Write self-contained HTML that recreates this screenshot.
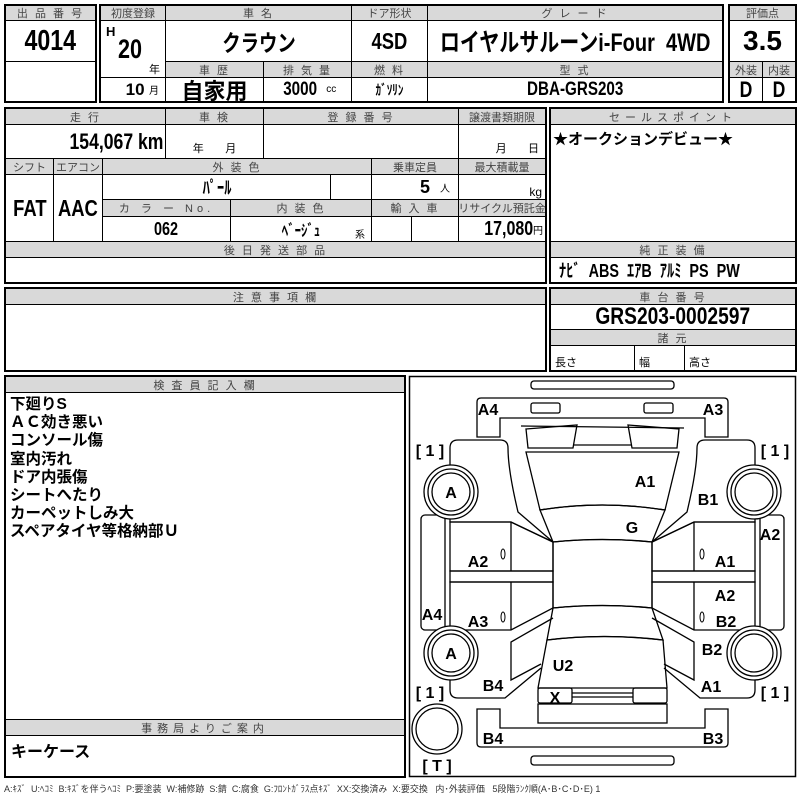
<!DOCTYPE html>
<html><head><meta charset="utf-8">
<style>
body{margin:0;width:800px;height:800px;background:#fff;position:relative;overflow:hidden;font-family:"Liberation Sans","Noto Sans CJK JP",sans-serif;}
.c{position:absolute;box-sizing:border-box;border:1px solid #000;display:flex;align-items:center;justify-content:center;color:#000;white-space:nowrap;overflow:hidden}
.h{background:#d9d9d9;color:#444;font-size:11px;letter-spacing:2px}
.o{position:absolute;box-sizing:border-box;border:2px solid #000}
.b{font-weight:bold;font-size:22px}
.n{display:inline-block;transform:scaleX(0.8)}
.s{font-size:10px;font-weight:normal}
</style></head><body>

<div class="c h" style="left:5px;top:5px;width:91px;height:16px">出 品 番 号</div>
<div class="c b" style="left:5px;top:20px;width:91px;height:42px;font-size:29px"><span class="n">4014</span></div>
<div class="c" style="left:5px;top:61px;width:91px;height:41px"></div>
<div class="o" style="left:4px;top:4px;width:93px;height:99px"></div>

<div class="c h" style="left:100px;top:5px;width:66px;height:16px;letter-spacing:0">初度登録</div>
<div class="c h" style="left:165px;top:5px;width:187px;height:16px">車 名</div>
<div class="c h" style="left:351px;top:5px;width:77px;height:16px;letter-spacing:0">ドア形状</div>
<div class="c h" style="left:427px;top:5px;width:296px;height:16px">グ レ ー ド</div>
<div class="c" style="left:100px;top:20px;width:66px;height:58px"></div>
<div style="position:absolute;left:106px;top:24px;font-weight:bold;font-size:13px">H</div>
<div style="position:absolute;left:115px;top:34px;font-weight:bold;font-size:27px"><span class="n">20</span></div>
<div style="position:absolute;left:149px;top:61px;font-size:11px">年</div>
<div class="c" style="left:100px;top:77px;width:66px;height:25px;justify-content:flex-end;padding-right:6px"><b style="font-size:17px">10</b>&nbsp;<span style="font-size:10px">月</span></div>
<div class="c b" style="left:165px;top:20px;width:187px;height:42px;font-size:23px"><span class="n">クラウン</span></div>
<div class="c b" style="left:351px;top:20px;width:77px;height:42px;font-size:23px"><span class="n">4SD</span></div>
<div class="c b" style="left:427px;top:20px;width:296px;height:42px;font-size:25px"><span class="n">ロイヤルサルーンi-Four&nbsp;&nbsp;4WD</span></div>
<div class="c h" style="left:165px;top:61px;width:99px;height:17px">車 歴</div>
<div class="c h" style="left:263px;top:61px;width:89px;height:17px">排 気 量</div>
<div class="c h" style="left:351px;top:61px;width:77px;height:17px">燃 料</div>
<div class="c h" style="left:427px;top:61px;width:296px;height:17px">型 式</div>
<div class="c b" style="left:165px;top:77px;width:99px;height:25px">自家用</div>
<div class="c b" style="left:263px;top:77px;width:89px;height:25px;font-size:19px"><span class="n">3000</span>&nbsp;<span class="s">cc</span></div>
<div class="c b" style="left:351px;top:77px;width:77px;height:25px;font-size:14px"><span class="n">ｶﾞｿﾘﾝ</span></div>
<div class="c b" style="left:427px;top:77px;width:296px;height:25px;font-size:19px"><span class="n">DBA-GRS203</span></div>
<div class="o" style="left:99px;top:4px;width:625px;height:99px"></div>

<div class="c h" style="left:729px;top:5px;width:67px;height:16px;letter-spacing:0">評価点</div>
<div class="c b" style="left:729px;top:20px;width:67px;height:42px;font-size:28px">3.5</div>
<div class="c h" style="left:729px;top:61px;width:34px;height:17px;letter-spacing:0">外装</div>
<div class="c h" style="left:762px;top:61px;width:34px;height:17px;letter-spacing:0">内装</div>
<div class="c b" style="left:729px;top:77px;width:34px;height:25px"><span class="n">D</span></div>
<div class="c b" style="left:762px;top:77px;width:34px;height:25px"><span class="n">D</span></div>
<div class="o" style="left:728px;top:4px;width:69px;height:99px"></div>

<div class="c h" style="left:5px;top:108px;width:161px;height:17px">走 行</div>
<div class="c h" style="left:165px;top:108px;width:99px;height:17px">車 検</div>
<div class="c h" style="left:263px;top:108px;width:196px;height:17px">登 録 番 号</div>
<div class="c h" style="left:458px;top:108px;width:88px;height:17px;letter-spacing:0">譲渡書類期限</div>
<div class="c b" style="left:5px;top:124px;width:161px;height:35px;justify-content:flex-end;padding-right:2px;font-size:22px"><span class="n" style="transform-origin:right">154,067 km</span></div>
<div class="c" style="left:165px;top:124px;width:99px;height:35px;align-items:flex-end;font-size:11px;padding-bottom:2px">年&nbsp;&nbsp;&nbsp;&nbsp;&nbsp;&nbsp;&nbsp;月</div>
<div class="c" style="left:263px;top:124px;width:196px;height:35px"></div>
<div class="c" style="left:458px;top:124px;width:88px;height:35px;align-items:flex-end;font-size:11px;padding-bottom:2px;justify-content:flex-end;padding-right:6px">月&nbsp;&nbsp;&nbsp;&nbsp;&nbsp;&nbsp;&nbsp;日</div>
<div class="c h" style="left:5px;top:158px;width:49px;height:17px;letter-spacing:0">シフト</div>
<div class="c h" style="left:53px;top:158px;width:50px;height:17px;letter-spacing:0">エアコン</div>
<div class="c h" style="left:102px;top:158px;width:270px;height:17px">外 装 色</div>
<div class="c h" style="left:371px;top:158px;width:88px;height:17px;letter-spacing:0">乗車定員</div>
<div class="c h" style="left:458px;top:158px;width:88px;height:17px;letter-spacing:0">最大積載量</div>
<div class="c b" style="left:5px;top:174px;width:49px;height:68px;font-size:23px"><span class="n">FAT</span></div>
<div class="c b" style="left:53px;top:174px;width:50px;height:68px;font-size:23px"><span class="n">AAC</span></div>
<div class="c b" style="left:102px;top:174px;width:229px;height:26px;font-size:18px"><span class="n">ﾊﾟｰﾙ</span></div>
<div class="c" style="left:330px;top:174px;width:42px;height:26px"></div>
<div class="c b" style="left:371px;top:174px;width:88px;height:26px;font-size:18px;justify-content:flex-end;padding-right:8px">5&nbsp;&nbsp;<span class="s">人</span></div>
<div class="c" style="left:458px;top:174px;width:88px;height:26px;justify-content:flex-end;padding-right:3px;font-size:12px;align-items:flex-end">kg</div>
<div class="c h" style="left:102px;top:199px;width:129px;height:18px;letter-spacing:4px">カ ラ ー No.</div>
<div class="c h" style="left:230px;top:199px;width:142px;height:18px">内 装 色</div>
<div class="c h" style="left:371px;top:199px;width:88px;height:18px">輸 入 車</div>
<div class="c h" style="left:458px;top:199px;width:88px;height:18px;letter-spacing:0">リサイクル預託金</div>
<div class="c b" style="left:102px;top:216px;width:129px;height:26px;font-size:18px"><span class="n">062</span></div>
<div class="c b" style="left:230px;top:216px;width:142px;height:26px;font-size:16px"><span class="n">ﾍﾞｰｼﾞｭ</span></div>
<div style="position:absolute;left:355px;top:226px;font-size:10px">系</div>
<div class="c" style="left:371px;top:216px;width:41px;height:26px"></div>
<div class="c" style="left:411px;top:216px;width:48px;height:26px"></div>
<div class="c b" style="left:458px;top:216px;width:88px;height:26px;font-size:20px;justify-content:flex-end;padding-right:2px"><span class="n" style="transform-origin:right">17,080</span><span class="s">円</span></div>
<div class="c h" style="left:5px;top:241px;width:541px;height:17px">後 日 発 送 部 品</div>
<div class="c" style="left:5px;top:257px;width:541px;height:26px"></div>
<div class="o" style="left:4px;top:107px;width:543px;height:177px"></div>

<div class="c h" style="left:550px;top:108px;width:246px;height:17px;letter-spacing:5px">セールスポイント</div>
<div class="c" style="left:550px;top:124px;width:246px;height:118px;align-items:flex-start;justify-content:flex-start;padding:3px 2px;font-weight:bold;font-size:15px">★オークションデビュー★</div>
<div class="c h" style="left:550px;top:241px;width:246px;height:17px">純 正 装 備</div>
<div class="c b" style="left:550px;top:257px;width:246px;height:26px;font-size:18px;justify-content:flex-start;padding-left:8px"><span class="n" style="transform-origin:left">ﾅﾋﾞ&nbsp; ABS&nbsp; ｴｱB&nbsp; ｱﾙﾐ&nbsp; PS&nbsp; PW</span></div>
<div class="o" style="left:549px;top:107px;width:248px;height:177px"></div>

<div class="c h" style="left:5px;top:288px;width:541px;height:17px">注 意 事 項 欄</div>
<div class="c" style="left:5px;top:304px;width:541px;height:67px"></div>
<div class="o" style="left:4px;top:287px;width:543px;height:85px"></div>

<div class="c h" style="left:550px;top:288px;width:246px;height:17px">車 台 番 号</div>
<div class="c b" style="left:550px;top:304px;width:246px;height:26px;font-size:24px"><span class="n">GRS203-0002597</span></div>
<div class="c h" style="left:550px;top:329px;width:246px;height:17px">諸 元</div>
<div class="c" style="left:550px;top:345px;width:85px;height:26px;justify-content:flex-start;padding-left:4px;font-size:11px;align-items:flex-end">長さ</div>
<div class="c" style="left:634px;top:345px;width:51px;height:26px;justify-content:flex-start;padding-left:4px;font-size:11px;align-items:flex-end">幅</div>
<div class="c" style="left:684px;top:345px;width:112px;height:26px;justify-content:flex-start;padding-left:4px;font-size:11px;align-items:flex-end">高さ</div>
<div class="o" style="left:549px;top:287px;width:248px;height:85px"></div>

<div class="c h" style="left:5px;top:376px;width:400px;height:17px">検 査 員 記 入 欄</div>
<div class="c" style="left:5px;top:392px;width:400px;height:328px;align-items:flex-start;justify-content:flex-start;padding:3px 4px;font-weight:bold;font-size:15.5px;line-height:18.2px;white-space:pre;">下廻りS
ＡＣ効き悪い
コンソール傷
室内汚れ
ドア内張傷
シートへたり
カーペットしみ大
スペアタイヤ等格納部Ｕ</div>
<div class="c h" style="left:5px;top:719px;width:400px;height:17px;letter-spacing:5px">事務局よりご案内</div>
<div class="c" style="left:5px;top:735px;width:400px;height:42px;align-items:flex-start;justify-content:flex-start;padding:2px 5px;font-weight:bold;font-size:16px">キーケース</div>
<div class="o" style="left:4px;top:375px;width:402px;height:403px"></div>

<div style="position:absolute;left:4px;top:782px;font-size:9px;color:#333;white-space:nowrap;letter-spacing:0">A:ｷｽﾞ&nbsp; U:ﾍｺﾐ&nbsp; B:ｷｽﾞを伴うﾍｺﾐ&nbsp; P:要塗装&nbsp; W:補修跡&nbsp; S:錆&nbsp; C:腐食&nbsp; G:ﾌﾛﾝﾄｶﾞﾗｽ点ｷｽﾞ&nbsp; XX:交換済み&nbsp; X:要交換&nbsp;&nbsp; 内･外装評価&nbsp;&nbsp; 5段階ﾗﾝｸ順(A･B･C･D･E) 1</div>

<svg width="800" height="800" style="position:absolute;left:0;top:0" xmlns="http://www.w3.org/2000/svg">
<g fill="none" stroke="#000" stroke-width="1.3">
<rect x="409.5" y="376.5" width="386" height="400" stroke-width="1.5"/>
<rect x="531" y="381" width="143" height="8" rx="3"/>
<rect x="531" y="756" width="143" height="9" rx="3"/>
<path d="M477,437 L477,402 Q477,398 481,398 L724,398 Q728,398 728,402 L728,437 L705,437 L705,418 L500,418 L500,437 Z"/>
<rect x="531" y="403" width="29" height="10" rx="2"/>
<rect x="644" y="403" width="29" height="10" rx="2"/>
<path d="M477,709 L500,709 L500,728 L705,728 L705,709 L728,709 L728,743 Q728,747 724,747 L481,747 Q477,747 477,743 Z"/>
<path d="M521,426 L684,428"/>
<path d="M526,429 L577,425 L573,448 L528,448 Z"/>
<path d="M628,425 L679,429 L677,448 L632,448 Z"/>
<path d="M573,445 L632,445"/>
<path d="M526,452 L679,452 L665,510 Q602,500 540,510 Z"/>
<path d="M540,510 Q602,500 665,510 L652,542 Q602,537 553,542 Z"/>
<path d="M553,542 Q602,537 652,542 L652,608 Q602,603 553,608 Z"/>
<path d="M553,608 Q602,603 652,608 L663,640 Q602,633 547,640 Z"/>
<path d="M547,640 Q605,633 663,640 L667,688 L538,688 Z"/>
<rect x="538" y="688" width="34" height="15" rx="2"/>
<rect x="633" y="688" width="34" height="15" rx="2"/>
<path d="M572,693 L633,693 M572,697 L633,697"/>
<rect x="538" y="704" width="129" height="19"/>
<g id="half">
<path d="M553,542 L518,512 Q508,470 508,448 Q508,440 500,440 L458,440 Q450,440 450,448 L450,522 L511,522 Z"/>
<path d="M450,522 L511,522 L553,542 L553,571 L450,571 Z M511,522 L511,571"/>
<rect x="450" y="571" width="103" height="11"/>
<path d="M450,582 L553,582 L553,608 L511,630 L450,630 Z M511,582 L511,630"/>
<path d="M450,630 L450,690 Q450,698 458,698 L505,698 L541,668"/>
<path d="M553,618 L511,642 L511,680 L541,664"/>
<rect x="421" y="515" width="24" height="115" rx="4"/>
<circle cx="451" cy="492" r="27" fill="#fff"/><circle cx="451" cy="492" r="23"/><circle cx="451" cy="492" r="19"/>
<circle cx="451" cy="653" r="27" fill="#fff"/><circle cx="451" cy="653" r="23"/><circle cx="451" cy="653" r="19"/>
<ellipse cx="503" cy="554" rx="2" ry="5" stroke-width="1"/>
<ellipse cx="503" cy="617" rx="2" ry="5" stroke-width="1"/>
</g>
<use href="#half" transform="translate(1205,0) scale(-1,1)"/>
<circle cx="437" cy="729" r="25"/><circle cx="437" cy="729" r="21"/>
</g>
<g font-family="Liberation Sans, sans-serif" font-weight="bold" font-size="16" fill="#000" text-anchor="middle">
<text x="488" y="415">A4</text><text x="713" y="415">A3</text>
<text x="451" y="498">A</text><text x="451" y="659">A</text>
<text x="645" y="487">A1</text><text x="708" y="505">B1</text><text x="632" y="533">G</text>
<text x="478" y="567">A2</text><text x="725" y="567">A1</text><text x="770" y="540">A2</text>
<text x="432" y="620">A4</text><text x="478" y="627">A3</text>
<text x="725" y="601">A2</text><text x="726" y="627">B2</text><text x="712" y="655">B2</text>
<text x="563" y="671">U2</text><text x="493" y="691">B4</text><text x="555" y="703">X</text><text x="711" y="692">A1</text>
<text x="493" y="744">B4</text><text x="713" y="744">B3</text>
<text x="430" y="456">[ 1 ]</text><text x="775" y="456">[ 1 ]</text>
<text x="430" y="698">[ 1 ]</text><text x="775" y="698">[ 1 ]</text>
<text x="437" y="771">[ T ]</text>
</g>
</svg>
</body></html>
